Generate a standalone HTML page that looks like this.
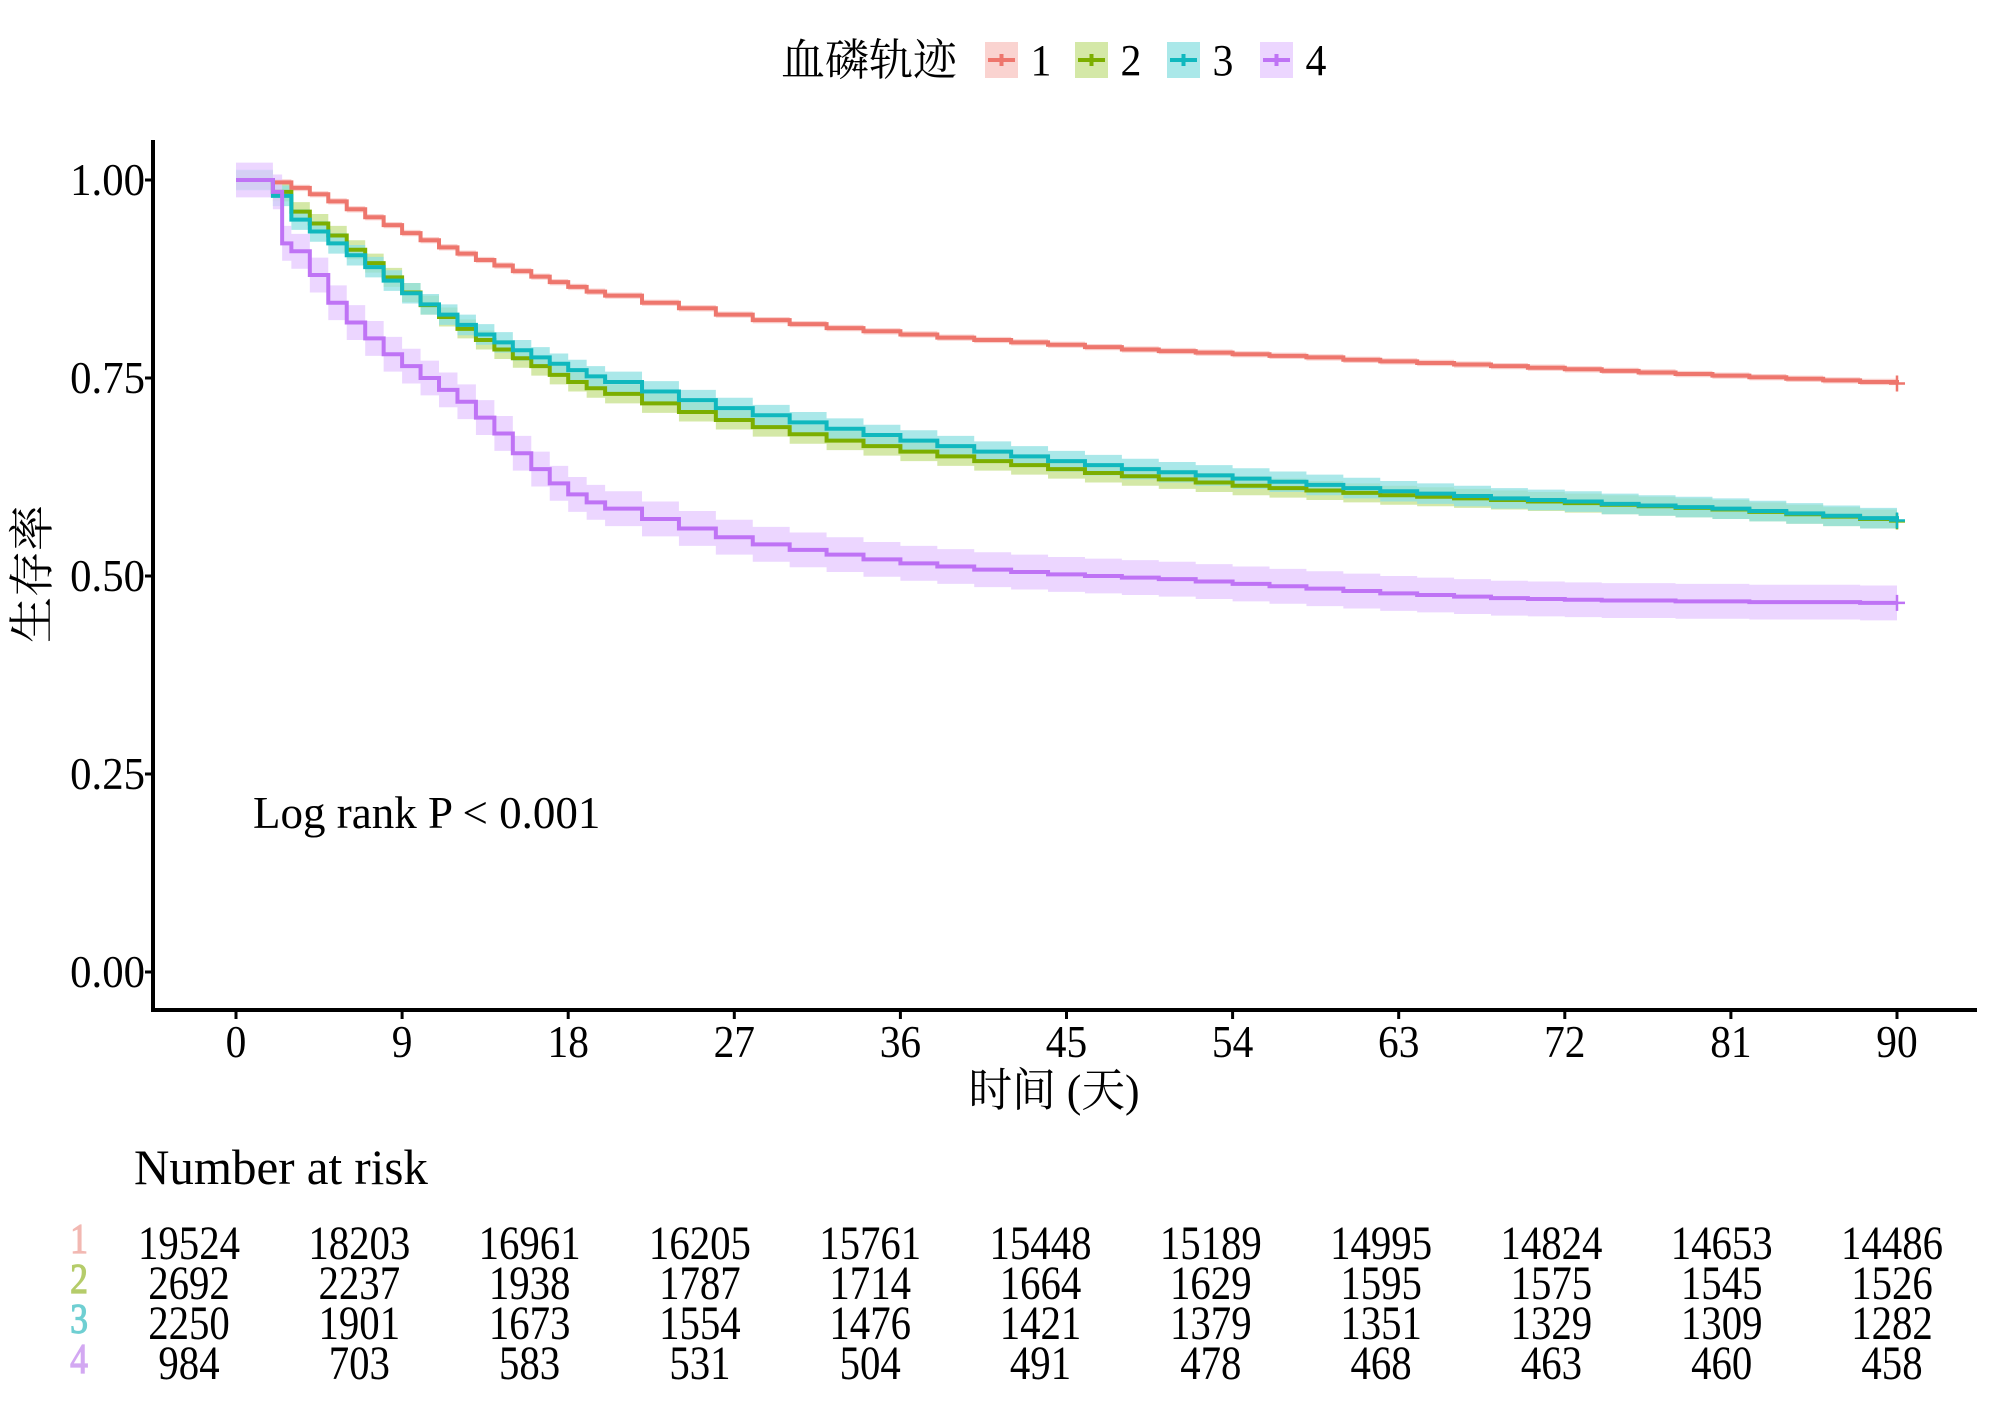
<!DOCTYPE html>
<html><head><meta charset="utf-8"><style>
body{margin:0;background:#fff;}
svg{display:block;font-family:"Liberation Serif","Noto Serif CJK SC",serif;}
</style></head><body>
<svg id="chart" width="2000" height="1415" viewBox="0 0 2000 1415">
<g id="bands"></g>
<g id="lines"></g>
<g id="axes"></g>
<g id="legend"></g>
<g id="risk"></g>
</svg>
<script>
const groups = ["1","2","3","4"];
const colors = ["#EE766D","#7CAE00","#10B8BE","#BF73F5"];
const bandColors = ["#F8C4C0","#C6E08A","#8EE0E2","#E6C8FF"];
const labelColors = ["#F2B8B2","#B5CC6A","#6FCFD2","#D3A8F2"];
const xTicks = [0,9,18,27,36,45,54,63,72,81,90];
const yTicks = [0,0.25,0.5,0.75,1];
const yTickLabels = ["0.00","0.25","0.50","0.75","1.00"];
const tA = [0,1,2,3,4,5,6,7,8,9,10,11,12,13,14,15,16,17,18,19,20,22,24,26,28,30,32,34,36,38,40,42,44,46,48,50,52,54,56,58,60,62,64,66,68,70,72,74,76,78,80,82,84,86,88,90];
const s1 = [1,1,.997,.99,.982,.973,.963,.953,.943,.933,.924,.915,.907,.899,.892,.885,.878,.871,.865,.859,.854,.845,.838,.83,.823,.818,.813,.809,.805,.801,.798,.795,.792,.789,.786,.784,.782,.78,.778,.776,.773,.771,.769,.767,.765,.763,.761,.759,.757,.755,.753,.751,.749,.747,.745,.743];
const s2 = [1,1,.985,.96,.945,.93,.912,.895,.877,.858,.842,.827,.812,.798,.786,.775,.765,.754,.745,.737,.73,.718,.707,.697,.688,.679,.671,.664,.657,.651,.645,.64,.635,.63,.626,.622,.618,.614,.611,.608,.605,.602,.6,.598,.596,.594,.592,.59,.588,.586,.584,.581,.578,.575,.572,.569];
const s3 = [1,1,.98,.95,.935,.92,.905,.89,.873,.857,.843,.83,.817,.805,.795,.785,.776,.768,.76,.752,.745,.733,.722,.712,.703,.694,.686,.678,.671,.664,.657,.651,.645,.64,.635,.631,.627,.623,.619,.615,.611,.607,.604,.601,.598,.596,.594,.591,.589,.587,.585,.582,.579,.576,.573,.57];
const t4 = [0,1,2,2.5,3,4,5,6,7,8,9,10,11,12,13,14,15,16,17,18,19,20,22,24,26,28,30,32,34,36,38,40,42,44,46,48,50,52,54,56,58,60,62,64,66,68,70,72,74,76,78,80,82,84,86,88,90];
const s4 = [1,1,.985,.92,.91,.88,.845,.82,.8,.78,.765,.75,.735,.72,.7,.68,.655,.635,.617,.603,.593,.585,.572,.56,.549,.54,.533,.527,.521,.516,.512,.508,.505,.502,.5,.498,.496,.493,.49,.487,.484,.481,.478,.476,.474,.472,.471,.47,.469,.469,.468,.468,.467,.467,.467,.466,.466];
const ciHalf = [0.004,0.012,0.013,0.022];
const risk1 = [19524,18203,16961,16205,15761,15448,15189,14995,14824,14653,14486];
const risk2 = [2692,2237,1938,1787,1714,1664,1629,1595,1575,1545,1526];
const risk3 = [2250,1901,1673,1554,1476,1421,1379,1351,1329,1309,1282];
const risk4 = [984,703,583,531,504,491,478,468,463,460,458];

const NS="http://www.w3.org/2000/svg";
const X0=153, XR=1977, YAX=1010;
function xs(t){return 236+t*(1897-236)/90;}
function ys(v){return 972-v*(972-180);}
function mk(tag,attrs,parent,text){const e=document.createElementNS(NS,tag);for(const k in attrs)e.setAttribute(k,attrs[k]);if(text!==undefined)e.textContent=text;parent.appendChild(e);return e;}
function txt(parent,x,y,str,size,sx,anchor,fill){return mk('text',{x:0,y:0,'font-size':size,'text-anchor':anchor||'start',fill:fill||'#000',transform:`translate(${x},${y}) scale(${sx},1)`},parent,str);}
const times=[tA,tA,tA,t4], surv=[s1,s2,s3,s4], risks=[risk1,risk2,risk3,risk4];
function stepPts(t,s,off){const p=[];for(let i=0;i<t.length;i++){if(i>0)p.push([xs(t[i]),ys(s[i-1]+off)]);p.push([xs(t[i]),ys(s[i]+off)]);}return p;}
const bands=document.getElementById('bands'), lines=document.getElementById('lines');
for(let g=0;g<4;g++){
  const up=stepPts(times[g],surv[g],ciHalf[g]), lo=stepPts(times[g],surv[g],-ciHalf[g]).reverse();
  const b=mk('polygon',{points:up.concat(lo).map(p=>p.join(',')).join(' '),fill:bandColors[g],'fill-opacity':0.75},bands);
  
  
}
for(let g=0;g<4;g++){
  const l=mk('polyline',{points:stepPts(times[g],surv[g],0).map(p=>p.join(',')).join(' '),fill:'none',stroke:colors[g],'stroke-width':4},lines);
  
  
  const tl=times[g].length-1, cx=xs(times[g][tl]), cy=ys(surv[g][tl]);
  const c=mk('path',{d:`M${cx-8},${cy}H${cx+8}M${cx},${cy-8}V${cy+8}`,stroke:colors[g],'stroke-width':2.5},lines);
  
  
}
const axes=document.getElementById('axes');
let a=mk('line',{x1:X0,y1:140,x2:X0,y2:YAX+2,stroke:'#000','stroke-width':4},axes);


a=mk('line',{x1:X0-2,y1:YAX,x2:XR,y2:YAX,stroke:'#000','stroke-width':4},axes);


yTicks.forEach((v,i)=>{
  const tk=mk('line',{x1:X0-8,y1:ys(v),x2:X0,y2:ys(v),stroke:'#000','stroke-width':3},axes);
  
  
  const tx=txt(axes,X0-8,ys(v)+15,yTickLabels[i],46,0.93,'end');
  
  
});
xTicks.forEach(t=>{
  const tk=mk('line',{x1:xs(t),y1:YAX,x2:xs(t),y2:YAX+9,stroke:'#000','stroke-width':3},axes);
  
  
  const tx=txt(axes,xs(t),YAX+47,String(t),46,0.9,'middle');
  
  
});
let tt=txt(axes,1054,1106,'时间 (天)',46,0.95,'middle');


tt=mk('text',{x:0,y:0,'text-anchor':'middle','font-size':46,transform:'translate(48,574) rotate(-90)'},axes,'生存率');


tt=txt(axes,253,828,'Log rank P < 0.001',45,1,'start');


const legend=document.getElementById('legend');
tt=txt(legend,781,75,'血磷轨迹',44,1,'start');


const keyX=[985,1075,1167,1260];
for(let g=0;g<4;g++){
  const r=mk('rect',{x:keyX[g],y:42,width:33,height:36,fill:bandColors[g],'fill-opacity':0.75},legend);
  
  
  const l=mk('path',{d:`M${keyX[g]+3},60H${keyX[g]+30}M${keyX[g]+16.5},54V66`,stroke:colors[g],'stroke-width':4},legend);
  
  
  const t=txt(legend,keyX[g]+56,75,groups[g],44,0.95,'middle');
  
  
}
const risk=document.getElementById('risk');
tt=txt(risk,134,1184,'Number at risk',50,0.98,'start');


const rowY=[1259,1299,1339,1379];
for(let g=0;g<4;g++){
  const lab=txt(risk,79,rowY[g]-6,groups[g],42,0.85,'middle',labelColors[g]);
  lab.setAttribute('stroke',labelColors[g]);
  lab.setAttribute('stroke-width','1.2');
  
  
  risks[g].forEach((n,i)=>{
    const t=txt(risk,189+i*170.3,rowY[g],String(n),48,0.85,'middle');
    
    
  });
}
</script>
</body></html>
